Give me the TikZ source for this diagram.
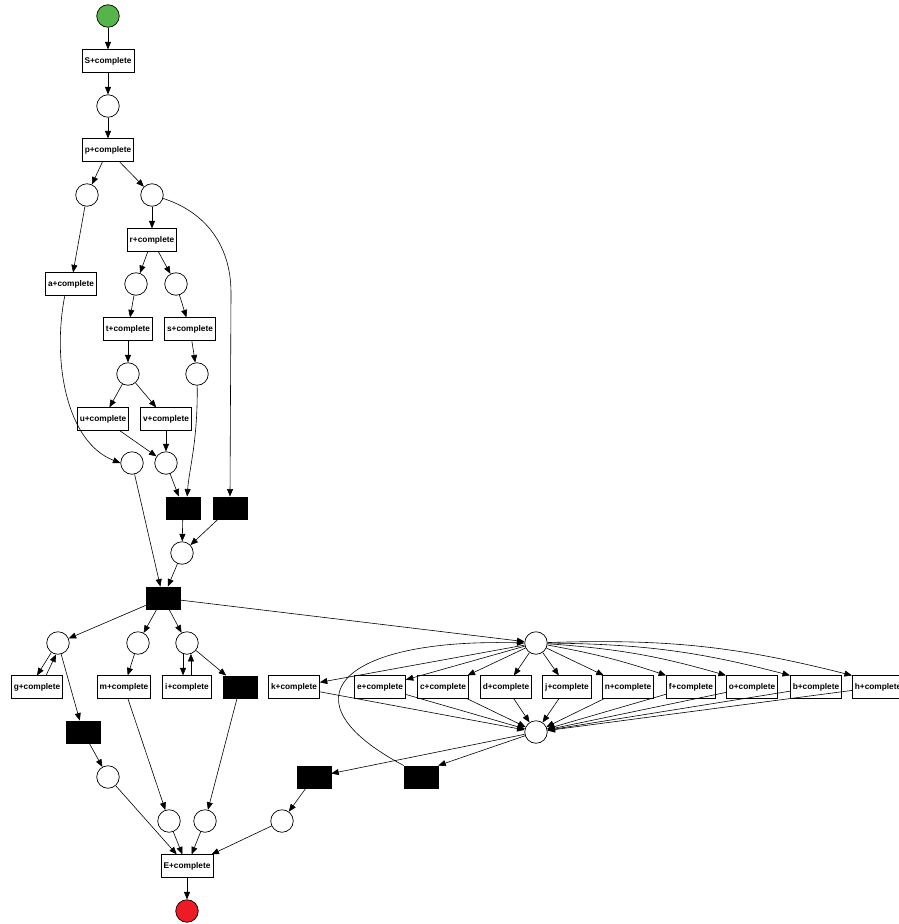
\documentclass[tikz,border=0pt]{standalone}
\usepackage{fontspec}
\setmainfont{Liberation Sans}
\usetikzlibrary{arrows.meta,calc}
\definecolor{startgreen}{RGB}{85,181,74}
\definecolor{endred}{RGB}{237,28,36}
\begin{document}
\begin{tikzpicture}[x=1pt,y=-1pt,
  place/.style={circle,draw,line width=0.7pt,minimum size=22.5pt,inner sep=0pt},
  trans/.style={rectangle,draw,line width=0.7pt,minimum height=22.5pt,inner xsep=2.5pt,inner ysep=0pt,font=\fontsize{8.3}{10}\selectfont\bfseries},
  silent/.style={rectangle,fill=black,draw=black,minimum width=34pt,minimum height=22.5pt,inner sep=0pt},
  arc/.style={draw,line width=0.6pt,-{Triangle[length=7.5pt,width=6pt]}}
]
\useasboundingbox (0,0) rectangle (899,924);
% nodes
\node[place,fill=startgreen] (start) at (108,16) {};
\node[trans] (S) at (108,61) {S+complete};
\node[place] (p1) at (108,106) {};
\node[trans] (P) at (108,150) {p+complete};
\node[place] (pa) at (87,195) {};
\node[place] (pb) at (152,195) {};
\node[trans] (R) at (152,240) {r+complete};
\node[trans] (A) at (71,284) {a+complete};
\node[place] (pr1) at (136,284) {};
\node[place] (pr2) at (176,284) {};
\node[trans] (T) at (128,329) {t+complete};
\node[trans] (Sc) at (190,329) {s+complete};
\node[place] (pt) at (128,374) {};
\node[place] (ps) at (197,374) {};
\node[trans] (U) at (103,419) {u+complete};
\node[trans] (V) at (166,419) {v+complete};
\node[place] (pL) at (132,463) {};
\node[place] (pM) at (166,463) {};
\node[silent] (Ta) at (183,508) {};
\node[silent] (Tb) at (230,508) {};
\node[place] (pN) at (182,553) {};
\node[silent] (Tc) at (163,598) {};
\node[place] (pg) at (58,643) {};
\node[place] (pm) at (138,643) {};
\node[place] (pi) at (187,643) {};
\node[place] (P1) at (536,643) {};
\node[trans] (G) at (37,687) {g+complete};
\node[trans] (M) at (124,687) {m+complete};
\node[trans] (I) at (187,687) {i+complete};
\node[silent] (Ti) at (240,687) {};
\node[trans] (tk) at (294,687) {k+complete};
\node[trans] (te) at (380,687) {e+complete};
\node[trans] (tc) at (443,687) {c+complete};
\node[trans] (td) at (506,687) {d+complete};
\node[trans] (tj) at (567,687) {j+complete};
\node[trans] (tn) at (628,687) {n+complete};
\node[trans] (tf) at (691,687) {f+complete};
\node[trans] (to) at (752,687) {o+complete};
\node[trans] (tb) at (816,687) {b+complete};
\node[trans] (th) at (878,687) {h+complete};
\node[place] (P2) at (536,732) {};
\node[silent] (Tg) at (83,732) {};
\node[place] (pg2) at (108,777) {};
\node[silent] (Tx) at (314,777) {};
\node[silent] (Ty) at (421,777) {};
\node[place] (pm2) at (169,821) {};
\node[place] (pi2) at (205,821) {};
\node[place] (px) at (282,821) {};
\node[trans] (E) at (187,866) {E+complete};
\node[place,fill=endred] (end) at (187,911) {};
% arcs top
\draw[arc] (start) -- (S);
\draw[arc] (S) -- (p1);
\draw[arc] (p1) -- (P);
\draw[arc] (P) -- (pa);
\draw[arc] (P) -- (pb);
\draw[arc] (pa) -- (A);
\draw[arc] (pb) -- (R);
\draw[arc] (pb) .. controls (200,210) and (231,240) .. (231,293) -- (Tb.north);
\draw[arc] (R) -- (pr1);
\draw[arc] (R) -- (pr2);
\draw[arc] (pr1) -- (T);
\draw[arc] (pr2) -- (Sc);
\draw[arc] (T) -- (pt);
\draw[arc] (Sc) -- (ps);
\draw[arc] (pt) -- (U);
\draw[arc] (pt) -- (V);
\draw[arc] (U) -- (pM);
\draw[arc] (V) -- (pM);
\draw[arc] (A.-118) .. controls (52,360) and (66,442) .. (pL.west);
\draw[arc] (ps) .. controls (198,440) and (189,470) .. (Ta.70);
\draw[arc] (pM) -- (Ta.110);
\draw[arc] (Ta) -- (pN);
\draw[arc] (Tb) -- (pN);
\draw[arc] (pL) -- (Tc);
\draw[arc] (pN) -- (Tc);
% middle
\draw[arc] (Tc) -- (pg);
\draw[arc] (Tc) -- (pm);
\draw[arc] (Tc) -- (pi);
\draw[arc] (Tc) -- (P1);
\draw[arc] (pg.-125) -- (G.north);
\draw[arc] (G.52) -- (pg.-100);
\draw[arc] (pg) -- (Tg);
\draw[arc] (pm) -- (M);
\draw[arc] (pi.-110) -- (pi.-110 |- I.north);
\draw[arc] (I.north -| pi.-70) -- (pi.-70);
\draw[arc] (pi) -- (Ti);
\draw[arc] (Tg) -- (pg2);
\draw[arc] (M) -- (pm2);
\draw[arc] (Ti) -- (pi2);
\draw[arc] (pg2) -- (E);
\draw[arc] (pm2) -- (E);
\draw[arc] (pi2) -- (E);
\draw[arc] (px) -- (E);
\draw[arc] (Tx) -- (px);
\draw[arc] (E) -- (end);
% right group
\foreach \t in {tk,te,tc,td,tj,tn} \draw[arc] (P1) -- (\t);
\draw[arc] (P1) to[bend left=4] (tf.north west);
\draw[arc] (P1) to[bend left=6] (to.north west);
\draw[arc] (P1) to[bend left=7] (tb.north west);
\draw[arc] (P1) to[bend left=8] (th.north west);
\foreach \t in {tk,te,tc,td,tj,tn,tf,to,tb,th} \draw[arc] (\t) -- (P2);
\draw[arc] (P2) -- (Tx);
\draw[arc] (P2) -- (Ty.north east);
\draw[arc] (Ty.north west) .. controls (280,700) and (340,638) .. (P1.west);
\end{tikzpicture}
\end{document}
